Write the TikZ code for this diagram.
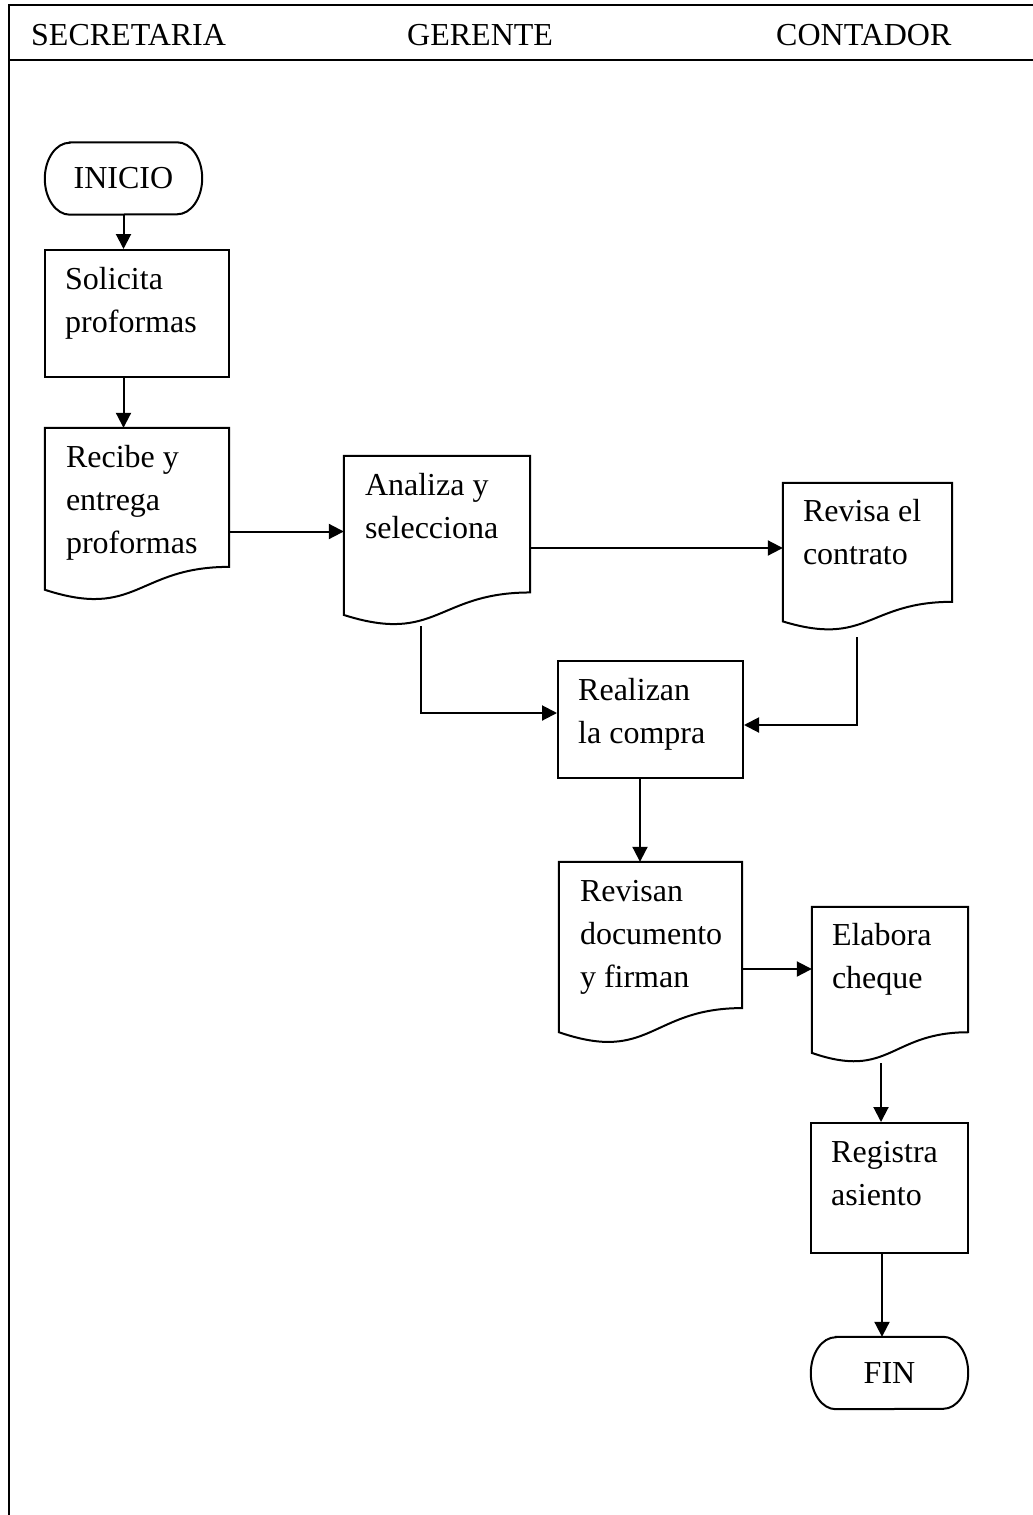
\documentclass[tikz,border=0pt]{standalone}
\usepackage{fontspec}
\setmainfont{Liberation Serif}
\usetikzlibrary{arrows.meta,calc}

\tikzset{
  borde/.style={line width=2pt, line join=miter},
  caja/.style={draw, line width=2pt, inner sep=0pt},
  hoja/.style={inner sep=0pt},
  term/.style={inner sep=0pt, minimum width=157pt, minimum height=72pt, font=\fontsize{32}{43}\selectfont},
  texto/.style={anchor=base west, align=flush left, text width=170pt, inner sep=0pt, font=\fontsize{32}{43}\selectfont},
  encabezado/.style={anchor=base west, inner sep=0pt, font=\fontsize{32}{43}\selectfont},
  flecha/.style={line width=2pt, -{Triangle[length=15pt,width=15pt]}},
}

% documento con borde inferior ondulado
\newcommand{\hojaborde}[1]{%
  \draw[borde] (#1.north west) -- (#1.north east)
    -- ($(#1.north east)!0.802!(#1.south east)$)
    .. controls ($(#1.north)!0.802!(#1.south)$) and ($(#1.north)!1.108!(#1.south)$)
    .. ($(#1.north west)!0.934!(#1.south west)$) -- cycle;}

% inicio / fin con extremos elipticos
\newcommand{\terminalborde}[1]{%
  \draw[borde] ([xshift=25pt]#1.north west) -- ([xshift=-25pt]#1.north east)
    arc[start angle=90, end angle=-90, x radius=25pt, y radius=36pt]
    -- ([xshift=25pt]#1.south west)
    arc[start angle=270, end angle=90, x radius=25pt, y radius=36pt] -- cycle;}

\begin{document}
\begin{tikzpicture}[x=1pt, y=-1pt]
  \useasboundingbox (0,0) rectangle (1033,1515);

  % --- 1. marco y encabezado ---
  \draw[line width=2.3pt] (1033,5) -- (9,5) -- (9,1515);
  \draw[line width=2.3pt] (9,60) -- (1033,60);
  \node[encabezado] (secretaria) at (31,45) {SECRETARIA};
  \node[encabezado] (gerente) at (407,45) {GERENTE};
  \node[encabezado] (contador) at (776,45) {CONTADOR};

  % --- 2. secretaria ---
  \node[term] (inicio) at (123.5,178.5) {INICIO};
  \terminalborde{inicio}

  \node[caja, minimum width=184pt, minimum height=127pt] (solicita) at (137,313.5) {};
  \node[texto] (txt-solicita) at ([shift={(21,40)}]solicita.north west) {Solicita\\proformas};

  \node[hoja, minimum width=184pt, minimum height=173pt] (recibe) at (137,514.5) {};
  \hojaborde{recibe}
  \node[texto] (txt-recibe) at ([shift={(21,40)}]recibe.north west) {Recibe y\\entrega\\proformas};

  % --- 3. gerente ---
  \node[hoja, minimum width=186pt, minimum height=170pt] (analiza) at (437,541) {};
  \hojaborde{analiza}
  \node[texto] (txt-analiza) at ([shift={(21,40)}]analiza.north west) {Analiza y\\selecciona};

  \node[caja, minimum width=185pt, minimum height=117pt] (realizan) at (650.5,719.5) {};
  \node[texto] (txt-realizan) at ([shift={(21,40)}]realizan.north west) {Realizan\\la compra};

  \node[hoja, minimum width=183pt, minimum height=182pt] (revisan) at (650.5,953) {};
  \hojaborde{revisan}
  \node[texto] (txt-revisan) at ([shift={(21,40)}]revisan.north west) {Revisan\\documento\\y firman};

  % --- 4. contador ---
  \node[hoja, minimum width=169pt, minimum height=148pt] (revisa) at (867.5,557) {};
  \hojaborde{revisa}
  \node[texto] (txt-revisa) at ([shift={(20,39)}]revisa.north west) {Revisa el\\contrato};

  \node[hoja, minimum width=156pt, minimum height=156pt] (elabora) at (890,985) {};
  \hojaborde{elabora}
  \node[texto] (txt-elabora) at ([shift={(20,39)}]elabora.north west) {Elabora\\cheque};

  \node[caja, minimum width=157pt, minimum height=130pt] (registra) at (889.5,1188) {};
  \node[texto] (txt-registra) at ([shift={(21,40)}]registra.north west) {Registra\\asiento};

  \node[term] (fin) at (889.5,1373) {FIN};
  \terminalborde{fin}

  % --- 5. flechas ---
  \draw[flecha] (inicio.south) -- (inicio.south |- solicita.north);
  \draw[flecha] (inicio.south |- solicita.south) -- (inicio.south |- recibe.north);

  \coordinate (r1) at ([yshift=-17pt]recibe.east);
  \draw[flecha] (r1) -- (r1 -| analiza.west);

  \coordinate (a1) at ([yshift=-7pt]analiza.east);
  \draw[flecha] (a1) -- (a1 -| revisa.west);

  \coordinate (a2) at ([xshift=-16pt]analiza.south);
  \coordinate (c1) at ([yshift=6.5pt]realizan.west);
  \draw[flecha] (a2) |- (c1);

  \coordinate (v1) at ([xshift=-11pt,yshift=-6pt]revisa.south);
  \coordinate (c2) at ([yshift=-5.5pt]realizan.east);
  \draw[flecha] (v1) |- (c2);

  \coordinate (c3) at ([xshift=-10.5pt]realizan.south);
  \draw[flecha] (c3) -- (c3 |- revisan.north);

  \coordinate (d1) at ([yshift=-16pt]revisan.east);
  \draw[flecha] (d1) -- (d1 -| elabora.west);

  \coordinate (e1) at ([xshift=-9pt]elabora.south);
  \draw[flecha] (e1) -- (e1 |- registra.north);

  \coordinate (g1) at ([xshift=-7.5pt]registra.south);
  \draw[flecha] (g1) -- (g1 |- fin.north);

\end{tikzpicture}
\end{document}
